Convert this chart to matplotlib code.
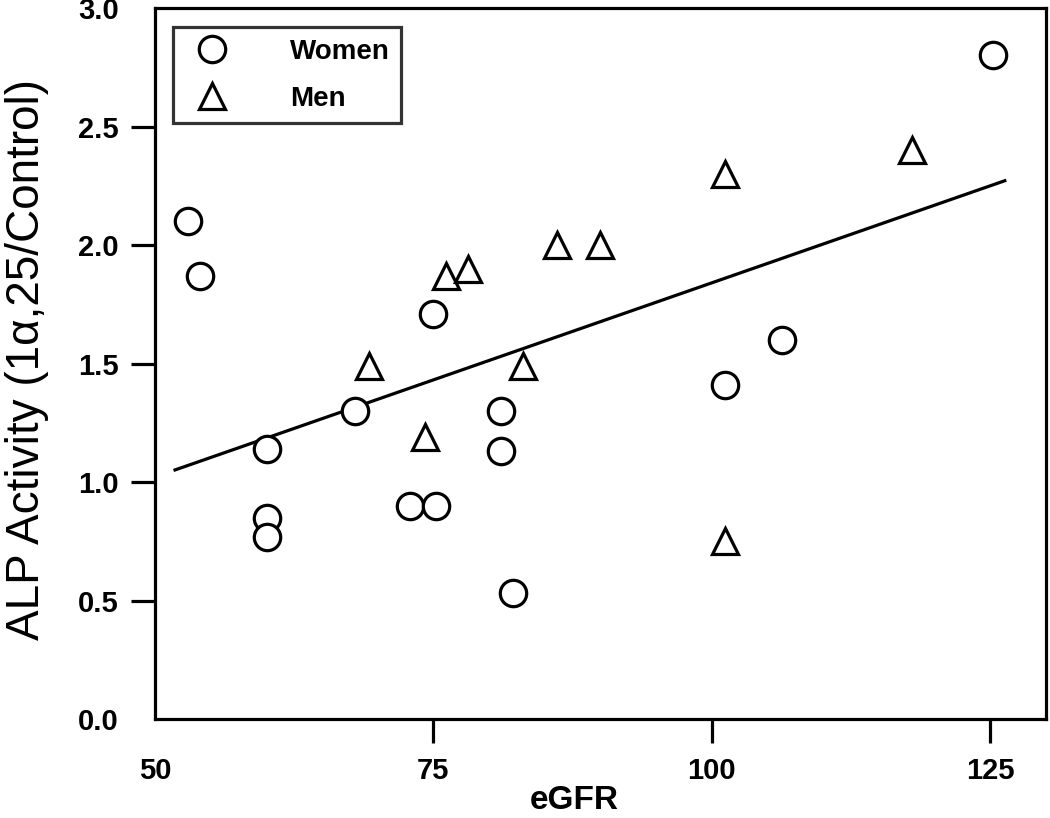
import numpy as np
import matplotlib
matplotlib.use("Agg")
import matplotlib.pyplot as plt

plt.rcParams["font.family"] = ["Liberation Sans", "DejaVu Sans"]

# women (circles)
women_egfr = [53.0, 54.0, 60.1, 60.1, 60.1, 68.0, 72.9, 75.2, 75.0,
              81.1, 81.1, 82.1, 101.2, 106.3, 125.2]
women_alp = [2.10, 1.87, 1.14, 0.85, 0.77, 1.30, 0.90, 0.90, 1.71,
             1.30, 1.13, 0.53, 1.41, 1.60, 2.80]

# men (triangles)
men_egfr = [69.2, 74.2, 76.1, 78.1, 83.0, 86.1, 90.0, 101.2, 101.2, 118.0]
men_alp = [1.49, 1.19, 1.87, 1.90, 1.49, 2.00, 2.00, 2.30, 0.75, 2.40]

# regression line
fit_slope = 0.01638
fit_intercept = 0.2025
fit_range = [51.8, 126.3]

xticks = [50, 75, 100, 125]
yticks = [0.0, 0.5, 1.0, 1.5, 2.0, 2.5, 3.0]

fig = plt.figure(figsize=(10.5, 8.18), dpi=100)
ax = fig.add_axes([0.1476, 0.1210, 0.8486, 0.8692])

fx = np.array(fit_range)
ax.plot(fx, fit_intercept + fit_slope * fx, color="black", lw=2.3, zorder=2)

ax.plot(women_egfr, women_alp, linestyle="none", marker="o", ms=19,
        mfc="white", mec="black", mew=2.3, label="Women", zorder=3)
ax.plot(men_egfr, men_alp, linestyle="none", marker="^", ms=19,
        mfc="white", mec="black", mew=2.3, label="Men", zorder=3)

ax.set_xlim(50, 130)
ax.set_ylim(0, 3.0)
ax.set_xticks(xticks)
ax.set_yticks(yticks)
ax.set_yticklabels([f"{v:.1f}" for v in yticks])

for s in ax.spines.values():
    s.set_linewidth(2.3)

ax.tick_params(axis="both", direction="out", length=17, width=2.3,
               labelsize=21)
ax.tick_params(axis="x", pad=10)
ax.tick_params(axis="y", pad=9)
for lab in ax.get_xticklabels() + ax.get_yticklabels():
    lab.set_fontweight("bold")

# no tick marks at the corners
ax.xaxis.get_major_ticks()[0].tick1line.set_visible(False)
ax.yaxis.get_major_ticks()[0].tick1line.set_visible(False)
ax.yaxis.get_major_ticks()[-1].tick1line.set_visible(False)

ax.set_xlabel("eGFR", fontsize=24, fontweight="bold")
ax.xaxis.set_label_coords(0.471, -0.093)
ax.set_ylabel("ALP Activity (1α,25/Control)", fontsize=33)
ax.yaxis.set_label_coords(-0.119, 0.505)

leg = ax.legend(loc="upper left", bbox_to_anchor=(0.0202, 0.973),
                borderaxespad=0, frameon=True, fancybox=False,
                prop={"size": 20, "weight": "bold"},
                handlelength=1.95, handletextpad=1.84, borderpad=0.42,
                labelspacing=0.75)
leg.get_frame().set_edgecolor("black")
leg.get_frame().set_linewidth(2.3)

fig.savefig("out.png", dpi=100)
